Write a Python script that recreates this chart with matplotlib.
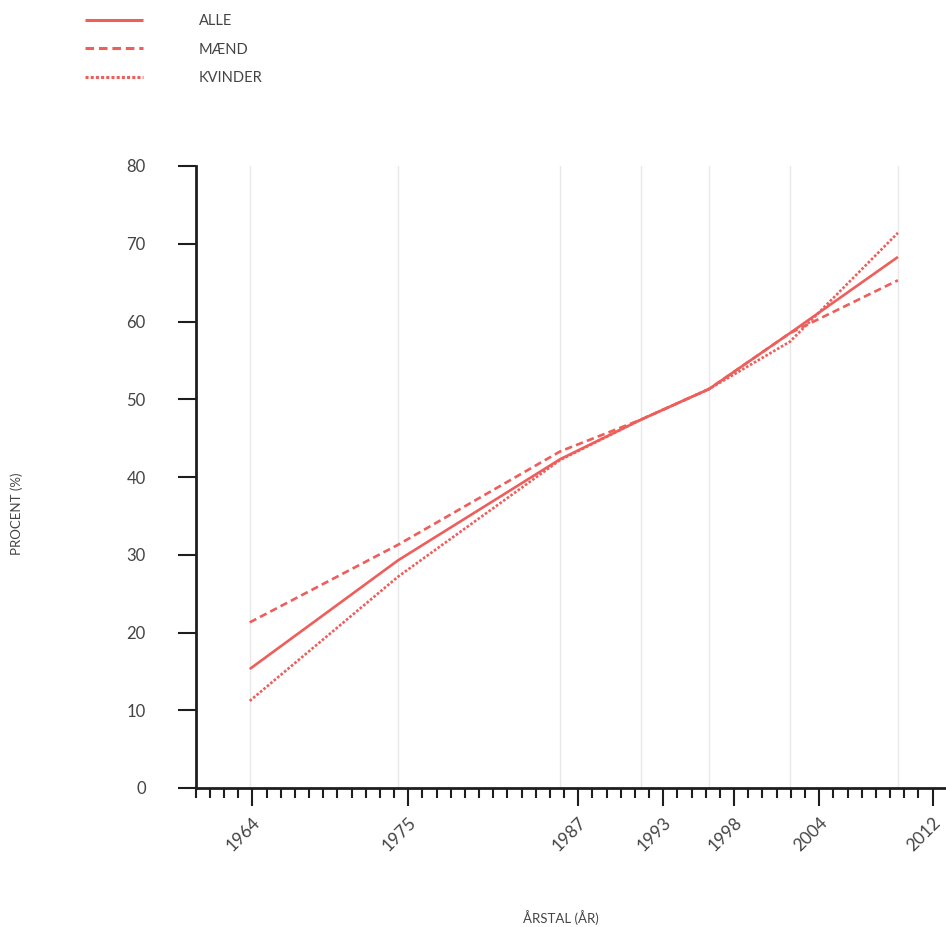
import matplotlib.pyplot as plt
from matplotlib.ticker import FixedLocator, MultipleLocator

plt.rcParams['font.family'] = ['Lato', 'DejaVu Sans']

# data
years = [1964, 1975, 1987, 1993, 1998, 2004, 2012]
alle = [15.3, 29.3, 42.3, 47.4, 51.3, 58.5, 68.3]
maend = [21.3, 31.3, 43.3, 47.4, 51.3, 58.5, 65.3]
kvinder = [11.2, 27.2, 42.2, 47.4, 51.3, 57.4, 71.4]
series_labels = ["ALLE", "MÆND", "KVINDER"]

line_color = "#EE5E5B"
text_color = "#444444"
axis_color = "#1e1e1e"

# the points in the original sit on a scale ~95% of the axis scale
POINT_SCALE = 0.953
X0 = 1960
x_pts = [X0 + (y - X0) * POINT_SCALE for y in years]

fig = plt.figure(figsize=(9.46, 9.27), dpi=100)
ax = fig.add_axes([195.7 / 946, 139 / 927, (946 - 195.7) / 946, 622 / 927])

for xp in x_pts:
    ax.axvline(xp, color="#e8e8e8", lw=1, zorder=0)

styles = ["-", (0, (2.8, 1.6)), (0, (1, 0.7))]
handles = []
for vals, ls, lab in zip([alle, maend, kvinder], styles, series_labels):
    h, = ax.plot(x_pts, vals, color=line_color, lw=1.9, ls=ls, label=lab,
                 solid_capstyle="butt", dash_capstyle="butt")
    handles.append(h)

ax.set_xlim(X0, 2012.95)
ax.set_ylim(0, 80)

for s in ["top", "right"]:
    ax.spines[s].set_visible(False)
for s in ["left", "bottom"]:
    ax.spines[s].set_color(axis_color)
    ax.spines[s].set_linewidth(2)

ax.xaxis.set_major_locator(FixedLocator(years))
ax.xaxis.set_minor_locator(MultipleLocator(1))
ax.set_xticklabels([str(y) for y in years], rotation=45, ha="right",
                   rotation_mode="anchor")
ax.yaxis.set_major_locator(MultipleLocator(10))

ax.tick_params(axis="x", which="major", length=13, width=1.5, color=axis_color,
               labelsize=12.5, labelcolor=text_color, pad=6)
ax.tick_params(axis="x", which="minor", length=7.5, width=1.5, color=axis_color)
ax.tick_params(axis="y", which="major", length=13, width=1.5, color=axis_color,
               labelsize=12, labelcolor=text_color, pad=23)

fig.text(17 / 946, 1 - 514 / 927, "PROCENT (%)", rotation=90, ha="center",
         va="center", fontsize=9.5, color=text_color)
fig.text(561 / 946, 1 - 918 / 927, "ÅRSTAL (ÅR)", ha="center", va="center",
         fontsize=9.5, color=text_color)

leg = fig.legend(handles=handles, loc="upper left",
                 bbox_to_anchor=(85 / 946, 1 - 14 / 927), frameon=False,
                 borderpad=0, borderaxespad=0, handlelength=4.0,
                 handletextpad=3.8, labelspacing=1.0, fontsize=10.5)
for t in leg.get_texts():
    t.set_color(text_color)
for lh in leg.get_lines():
    lh.set_linewidth(2.2)

fig.savefig("out.png", dpi=100)
